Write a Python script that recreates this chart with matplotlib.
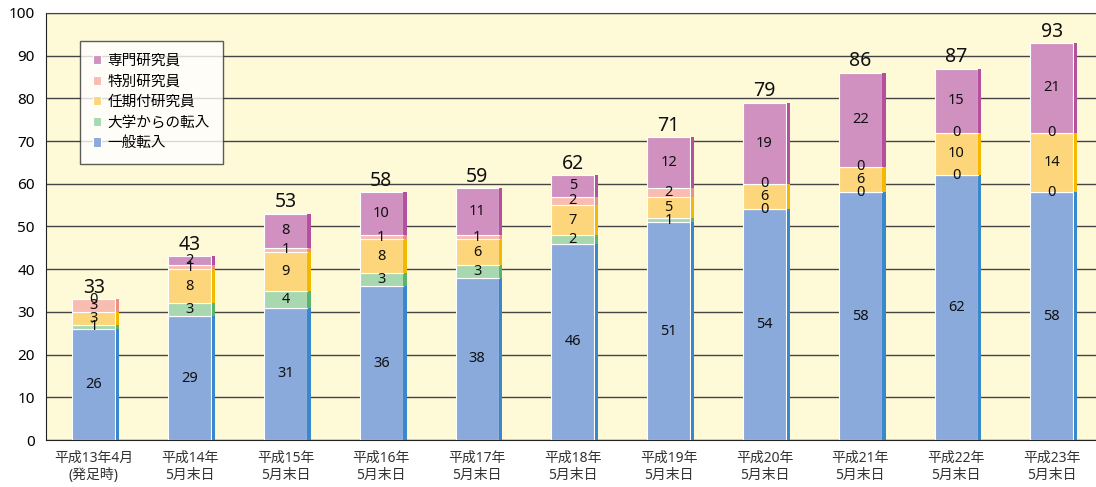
import matplotlib.pyplot as plt
import numpy as np

plt.rcParams['font.family'] = ['Noto Sans', 'Noto Sans CJK JP', 'DejaVu Sans']

periods = ['平成13年4月\n(発足時)', '平成14年\n5月末日', '平成15年\n5月末日', '平成16年\n5月末日',
           '平成17年\n5月末日', '平成18年\n5月末日', '平成19年\n5月末日', '平成20年\n5月末日',
           '平成21年\n5月末日', '平成22年\n5月末日', '平成23年\n5月末日']

ippan = [26, 29, 31, 36, 38, 46, 51, 54, 58, 62, 58]
daigaku = [1, 3, 4, 3, 3, 2, 1, 0, 0, 0, 0]
ninki = [3, 8, 9, 8, 6, 7, 5, 6, 6, 10, 14]
tokubetsu = [3, 1, 1, 1, 1, 2, 2, 0, 0, 0, 0]
senmon = [0, 2, 8, 10, 11, 5, 12, 19, 22, 15, 21]

series = [
    ('一般転入', ippan, '#8aaadb', '#3a88cc'),
    ('大学からの転入', daigaku, '#a8d8b0', '#5cb46c'),
    ('任期付研究員', ninki, '#fdd57a', '#f5b800'),
    ('特別研究員', tokubetsu, '#f8bcb0', '#ee8f86'),
    ('専門研究員', senmon, '#d091c0', '#b4509e'),
]

# which zero labels are shown in the original
show_zero = {
    '大学からの転入': [7, 8, 9, 10],
    '特別研究員': [7, 8, 9, 10],
    '専門研究員': [0],
}

fig = plt.figure(figsize=(10.96, 4.87), dpi=100)
ax = fig.add_axes([46 / 1096, 47 / 487, 1 - 46 / 1096, 427 / 487])
ax.set_facecolor('#fefad8')

x = np.arange(len(periods))
bottom = np.zeros(len(periods))
handles = []
for name, vals, face, side in series:
    vals = np.array(vals, dtype=float)
    h = ax.bar(x - 0.02, vals, width=0.45, bottom=bottom, color=face,
               edgecolor='white', linewidth=0.8, label=name, zorder=3)
    ax.bar(x + 0.227, vals, width=0.035, bottom=bottom, color=side,
           linewidth=0, zorder=3)
    handles.append(h)
    for i, v in enumerate(vals):
        if v > 0 or i in show_zero.get(name, []):
            ax.text(x[i] - 0.02, bottom[i] + v / 2, str(int(v)), ha='center',
                    va='center', fontsize=10.5, color='#111111', zorder=4)
    bottom += vals

for i, t in enumerate(bottom):
    ax.text(x[i] - 0.02, t + 0.3, str(int(t)), ha='center', va='bottom',
            fontsize=14, color='#111111', zorder=4)

ax.set_ylim(0, 100)
ax.set_xlim(-0.52, 10.44)
ax.set_yticks(range(0, 101, 10))
ax.set_xticks(x - 0.02)
ax.set_xticklabels(periods, fontsize=10, color='#333333', linespacing=1.2)
ax.tick_params(axis='y', labelsize=11, length=0, pad=8)
ax.tick_params(axis='x', length=0, pad=8)
ax.yaxis.grid(True, color='#444444', linewidth=1, zorder=0)
ax.set_axisbelow(True)
ax.spines['right'].set_visible(False)
ax.spines['top'].set_color('#444444')
ax.spines['left'].set_color('#222222')
ax.spines['bottom'].set_color('#222222')

leg = ax.legend(handles=handles[::-1], loc='upper left', bbox_to_anchor=(0.032, 0.935),
                fontsize=10.5, frameon=True, fancybox=False, edgecolor='#333333',
                handlelength=0.6, handleheight=0.6, handletextpad=0.4,
                labelspacing=0.38, borderpad=0.9, borderaxespad=0)
leg.get_frame().set_linewidth(1)
leg.set_zorder(5)

plt.savefig('out.png', dpi=100)
